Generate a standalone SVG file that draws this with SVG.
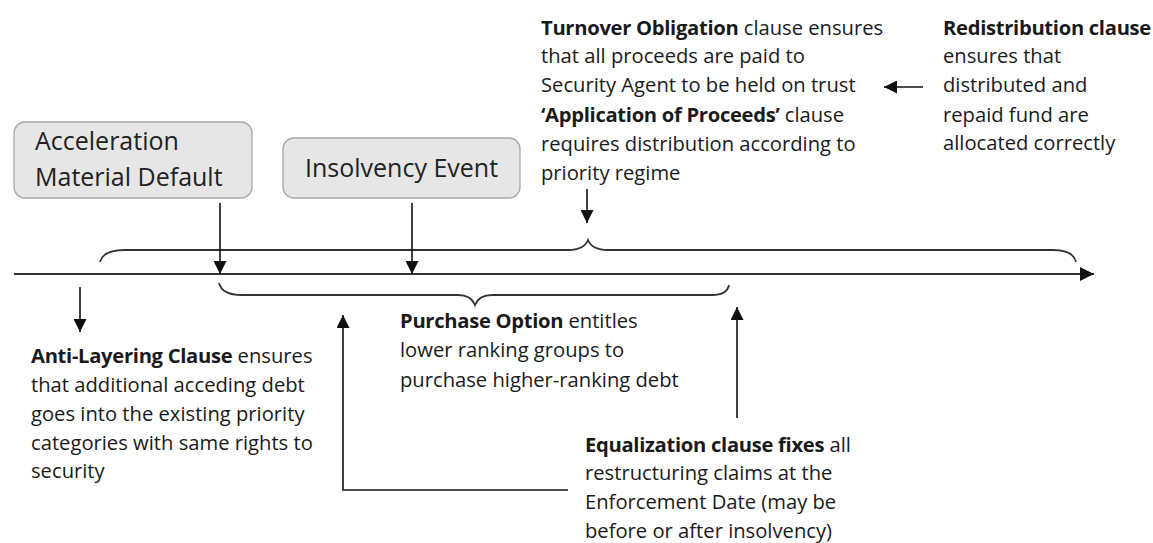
<svg xmlns="http://www.w3.org/2000/svg" width="1153" height="543" viewBox="0 0 1153 543">
<defs>
<marker id="ah" markerUnits="userSpaceOnUse" markerWidth="15" markerHeight="13" refX="13" refY="6.5" orient="auto">
<path d="M0,0 L13,6.5 L0,13 Z" fill="#111"/>
</marker>
<marker id="ahBig" markerUnits="userSpaceOnUse" markerWidth="16" markerHeight="14" refX="14" refY="7" orient="auto">
<path d="M0,0 L14,7 L0,14 Z" fill="#111"/>
</marker>
<style>
.box{fill:#e6e6e6;stroke:#a8a8a8;stroke-width:1.3}
.btxt{font-family:"Open Sans","Liberation Sans",sans-serif;font-size:25px;fill:#222}
.txt{font-family:"Open Sans","Liberation Sans",sans-serif;font-size:20.2px;fill:#1a1a1a}
.b{font-weight:bold;letter-spacing:-0.3px}
.arr{stroke:#111;stroke-width:1.6;fill:none;marker-end:url(#ah)}
.brace{stroke:#333;stroke-width:1.8;fill:none}
.axis{stroke:#333;stroke-width:2;fill:none;marker-end:url(#ahBig)}
</style>
</defs>

<g id="connectors">
<path class="axis" d="M14,274 L1094,274"/>
<path class="brace" d="M100,262 Q103,250 125,250 L568,250 Q584,250 588,240 Q592,250 608,250 L1053,250 Q1073,250 1076,262"/>
<path class="brace" d="M219,283 Q222,295 242,295 L458,295 Q471,295 475,305 Q479,295 492,295 L712,295 Q727,295 729,285"/>
<path class="arr" d="M220,203 L220,274"/>
<path class="arr" d="M412,203 L412,274"/>
<path class="arr" d="M587,189 L587,223"/>
<path class="arr" d="M923,87 L884,87"/>
<path class="arr" d="M80,287 L80,332"/>
<path class="arr" d="M568,490 L343,490 L343,315"/>
<path class="arr" d="M737,418 L737,307"/>
</g>

<g id="node-acceleration">
<rect class="box" x="14" y="122" width="238" height="76" rx="11"/>
<text class="btxt" x="35" y="150">Acceleration</text>
<text class="btxt" x="35" y="186">Material Default</text>
</g>

<g id="node-insolvency">
<rect class="box" x="283" y="138" width="237" height="60" rx="11"/>
<text class="btxt" x="305" y="177">Insolvency Event</text>
</g>

<g id="node-turnover">
<text class="txt" x="541" y="35"><tspan class="b">Turnover Obligation</tspan> clause ensures</text>
<text class="txt" x="541" y="63">that all proceeds are paid to</text>
<text class="txt" x="541" y="92">Security Agent to be held on trust</text>
<text class="txt" x="541" y="122"><tspan class="b">‘Application of Proceeds’</tspan> clause</text>
<text class="txt" x="541" y="151">requires distribution according to</text>
<text class="txt" x="541" y="180">priority regime</text>
</g>

<g id="node-redistribution">
<text class="txt" x="943" y="35"><tspan class="b">Redistribution clause</tspan></text>
<text class="txt" x="943" y="63">ensures that</text>
<text class="txt" x="943" y="92">distributed and</text>
<text class="txt" x="943" y="122">repaid fund are</text>
<text class="txt" x="943" y="150">allocated correctly</text>
</g>

<g id="node-antilayering">
<text class="txt" x="31" y="363"><tspan class="b">Anti-Layering Clause</tspan> ensures</text>
<text class="txt" x="31" y="392">that additional acceding debt</text>
<text class="txt" x="31" y="421">goes into the existing priority</text>
<text class="txt" x="31" y="450">categories with same rights to</text>
<text class="txt" x="31" y="478">security</text>
</g>

<g id="node-purchase">
<text class="txt" x="400" y="328"><tspan class="b">Purchase Option</tspan> entitles</text>
<text class="txt" x="400" y="357">lower ranking groups to</text>
<text class="txt" x="400" y="387">purchase higher-ranking debt</text>
</g>

<g id="node-equalization">
<text class="txt" x="585" y="452"><tspan class="b">Equalization clause fixes</tspan> all</text>
<text class="txt" x="585" y="480">restructuring claims at the</text>
<text class="txt" x="585" y="509">Enforcement Date (may be</text>
<text class="txt" x="585" y="538">before or after insolvency)</text>
</g>
</svg>
